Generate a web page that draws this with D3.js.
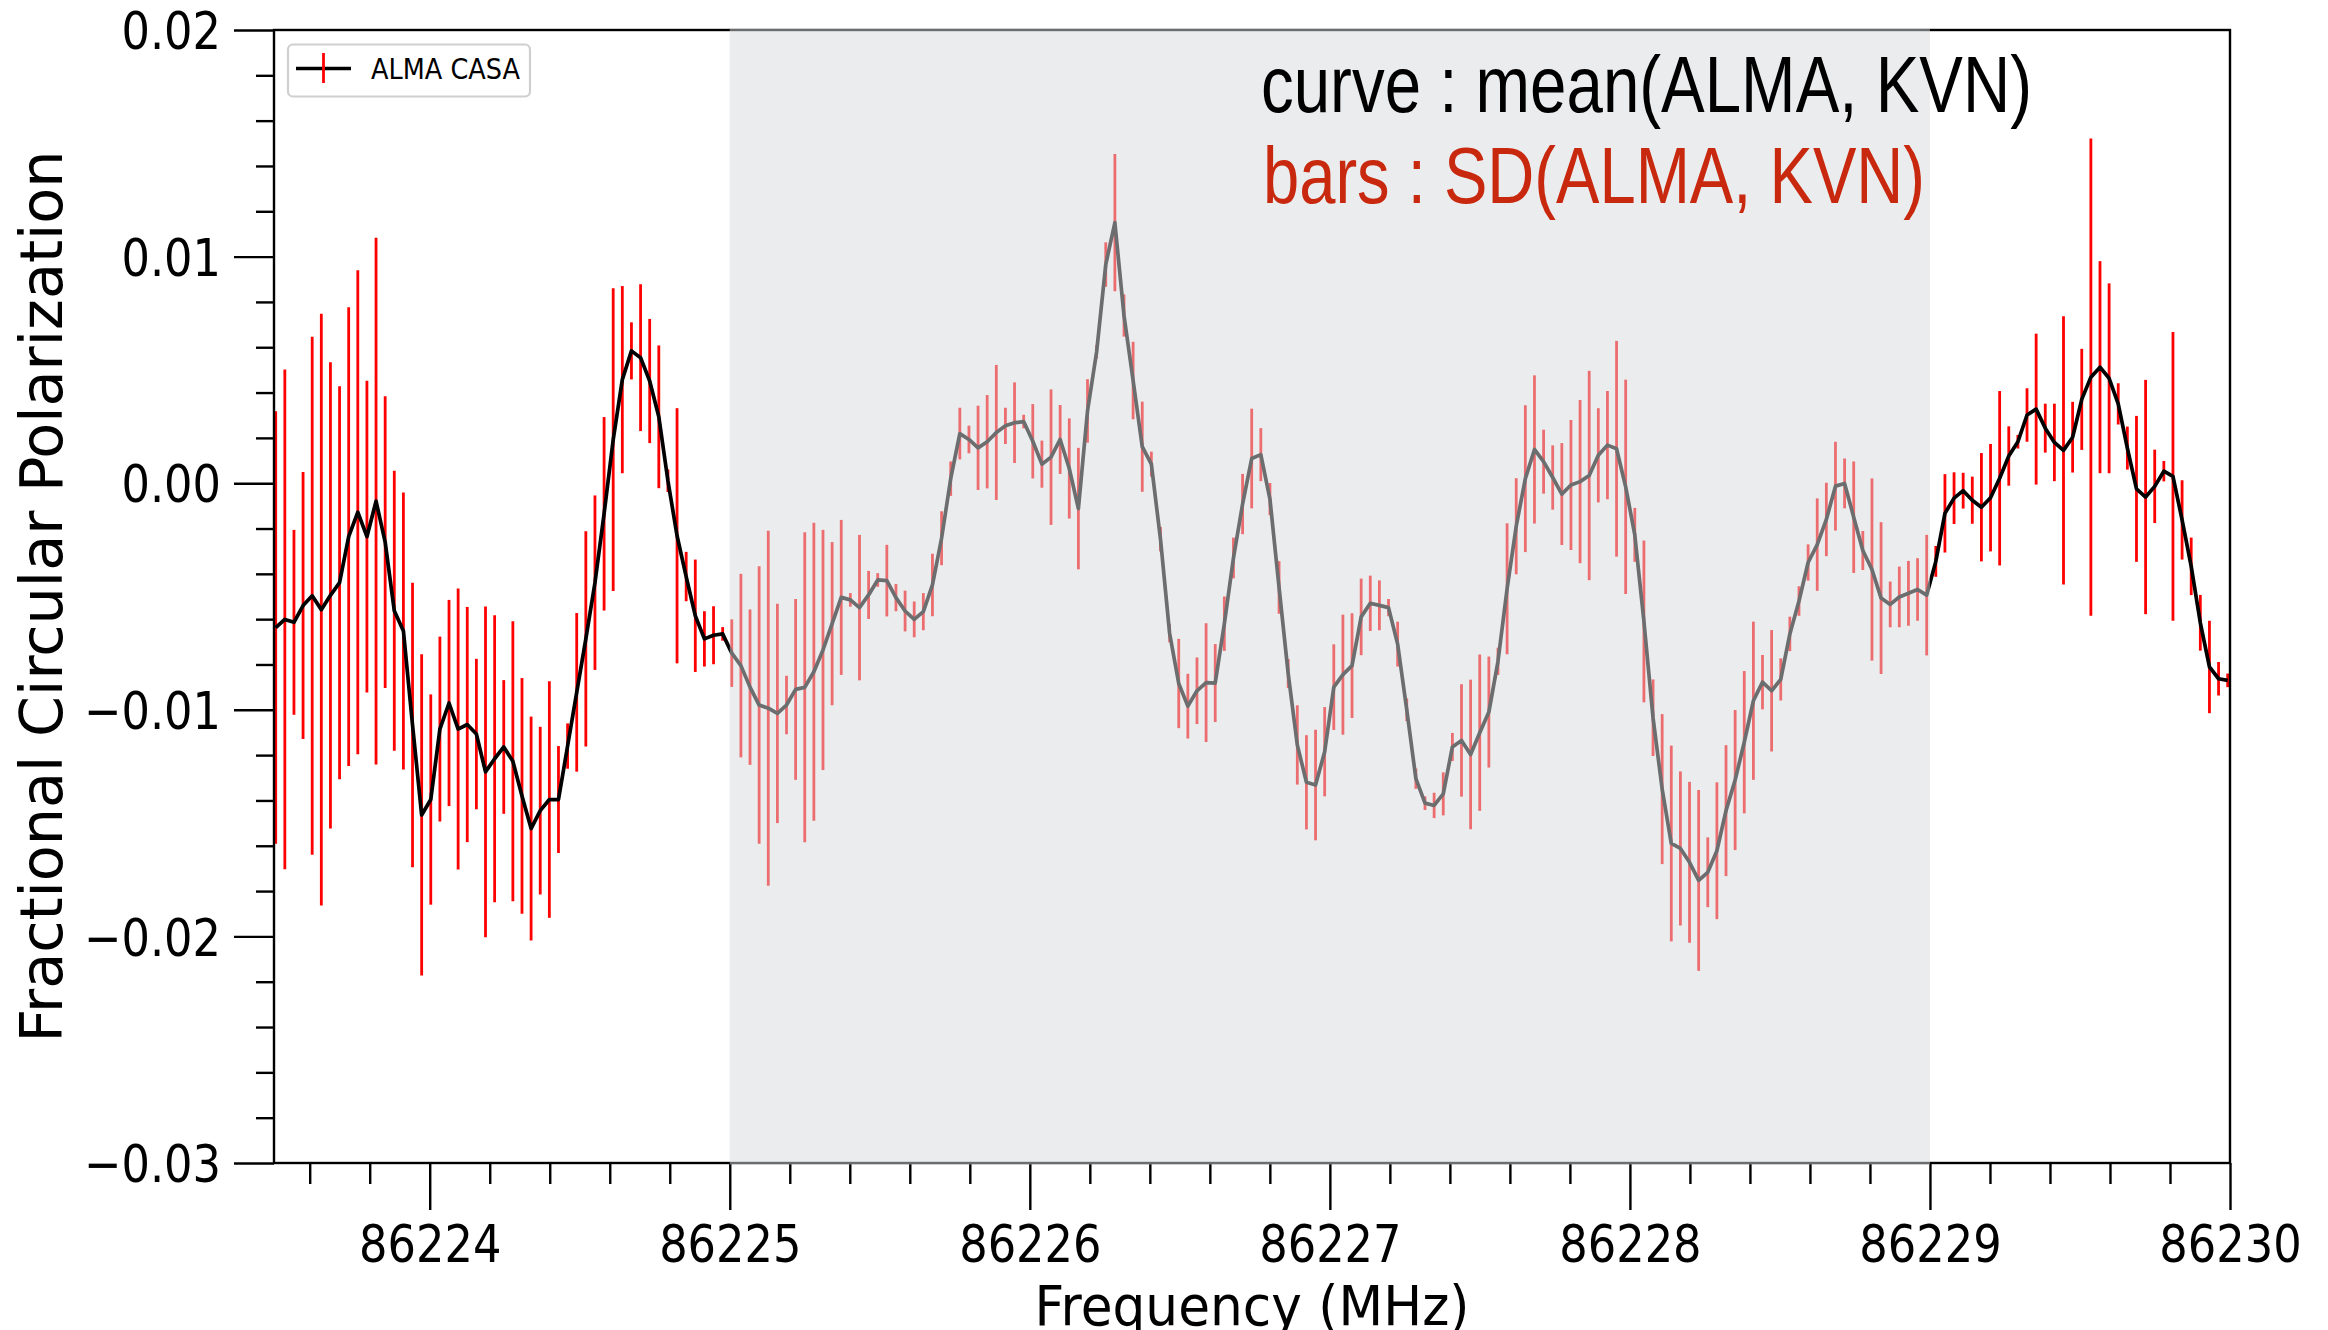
<!DOCTYPE html>
<html>
<head>
<meta charset="utf-8">
<script src="https://cdn.jsdelivr.net/npm/d3@7"></script>
<style>
  body { margin: 0; background: #fff; }
  svg { display: block; }
</style>
</head>
<body>
<svg id="chart" width="2328" height="1330"></svg>
<script>
// spectral channels (MHz)
const freqStart = 86223.4867;
const chanWidth = 0.0304;

// curve : mean(ALMA, KVN), in units of 1e-3
const meanVals = [
  -6.37, -6.01, -6.14, -5.40, -4.97, -5.58, -4.95, -4.39, -2.36, -1.28,
  -2.36, -0.79, -2.60, -5.63, -6.52, -10.67, -14.64, -13.96, -10.85, -9.70,
  -10.85, -10.65, -11.07, -12.74, -12.16, -11.64, -12.27, -13.80, -15.24, -14.45,
  -13.96, -13.96, -11.60, -9.23, -6.87, -4.39, -1.35, 1.92, 4.57, 5.84,
  5.54, 4.51, 2.93, 0.11, -2.32, -4.12, -5.85, -6.87, -6.71, -6.65,
  -7.50, -8.05, -9.00, -9.79, -9.93, -10.16, -9.79, -9.10, -9.01, -8.32,
  -7.36, -6.20, -5.04, -5.15, -5.49, -4.93, -4.27, -4.30, -5.05, -5.64,
  -6.01, -5.67, -4.49, -2.43, 0.20, 2.19, 1.93, 1.56, 1.83, 2.24,
  2.53, 2.67, 2.72, 1.85, 0.84, 1.15, 1.93, 0.65, -1.12, 3.19,
  5.80, 9.65, 11.50, 7.40, 4.53, 1.61, 0.84, -2.47, -6.62, -8.84,
  -9.84, -9.16, -8.80, -8.82, -6.20, -3.30, -0.92, 1.09, 1.26, -0.70,
  -4.60, -8.40, -11.55, -13.20, -13.32, -11.85, -9.00, -8.45, -8.05, -5.90,
  -5.30, -5.39, -5.49, -7.10, -10.00, -13.04, -14.12, -14.22, -13.71, -11.64,
  -11.35, -11.97, -11.01, -10.10, -7.86, -4.66, -1.90, 0.20, 1.49, 0.95,
  0.25, -0.48, -0.08, 0.07, 0.34, 1.23, 1.68, 1.52, -0.16, -2.28,
  -6.10, -10.35, -13.50, -15.90, -16.12, -16.73, -17.53, -17.17, -16.22, -14.45,
  -13.10, -11.43, -9.60, -8.78, -9.16, -8.66, -6.65, -5.20, -3.50, -2.71,
  -1.60, -0.13, -0.01, -1.50, -2.97, -3.81, -5.07, -5.35, -5.02, -4.86,
  -4.69, -4.94, -3.45, -1.33, -0.66, -0.33, -0.75, -1.06, -0.64, 0.22,
  1.20, 1.83, 3.01, 3.27, 2.43, 1.80, 1.45, 2.03, 3.70, 4.68,
  5.12, 4.63, 3.50, 1.55, -0.25, -0.61, -0.14, 0.53, 0.30, -1.62,
  -3.67, -6.16, -8.11, -8.63, -8.70
];

// bars : SD(ALMA, KVN), in units of 1e-3
const sdVals = [
  9.54, 11.03, 4.08, 5.89, 11.43, 13.06, 10.29, 8.67, 10.12, 10.68,
  6.88, 11.62, 6.44, 6.18, 6.11, 6.28, 7.09, 4.64, 4.08, 4.55,
  6.20, 5.19, 3.32, 7.30, 6.33, 2.95, 6.18, 5.20, 4.94, 3.70,
  5.22, 2.36, 1.00, 3.50, 4.75, 3.85, 4.27, 6.68, 4.13, 1.26,
  3.24, 2.74, 3.15, 0.50, 5.63, 1.09, 2.48, 1.22, 1.28, 0.30,
  1.49, 4.05, 3.43, 6.12, 7.83, 4.84, 1.29, 3.99, 6.84, 6.58,
  5.30, 3.60, 3.42, 0.30, 3.21, 1.06, 0.30, 1.58, 0.60, 0.90,
  0.79, 0.82, 1.38, 1.19, 0.76, 1.14, 0.61, 1.86, 2.06, 2.98,
  0.80, 1.78, 0.30, 1.64, 1.04, 2.99, 1.52, 2.21, 2.68, 1.40,
  0.30, 0.98, 3.03, 0.93, 1.71, 1.99, 0.55, 0.54, 0.40, 1.97,
  1.43, 1.47, 2.62, 1.72, 1.20, 0.90, 1.33, 2.20, 1.17, 0.71,
  1.16, 0.64, 1.75, 2.08, 2.44, 1.97, 1.89, 2.65, 2.31, 1.69,
  1.22, 1.10, 0.38, 0.99, 0.50, 0.45, 0.30, 0.56, 0.95, 0.62,
  2.48, 3.30, 3.45, 2.45, 0.60, 2.89, 2.12, 3.24, 3.27, 1.41,
  1.42, 2.25, 2.87, 3.60, 4.62, 2.08, 2.39, 4.76, 4.73, 1.19,
  3.57, 1.69, 3.31, 4.32, 3.40, 3.55, 3.99, 1.54, 3.02, 2.89,
  3.09, 3.14, 3.49, 1.20, 2.68, 0.93, 0.76, 0.65, 0.80, 2.04,
  1.62, 1.96, 1.10, 2.46, 0.86, 4.02, 3.35, 1.01, 1.34, 1.43,
  1.38, 2.66, 0.68, 1.73, 1.14, 0.79, 1.04, 2.39, 2.37, 3.85,
  1.31, 0.30, 1.18, 3.33, 1.08, 1.71, 5.92, 1.56, 2.23, 10.53,
  4.68, 4.19, 0.91, 0.95, 3.22, 5.17, 1.62, 0.45, 6.37, 1.75,
  1.27, 1.23, 2.04, 0.74, 0.30
];

const xTicks = [86224, 86225, 86226, 86227, 86228, 86229, 86230];
const yTicks = [-0.03, -0.02, -0.01, 0.00, 0.01, 0.02];
const yTickLabels = ["\u22120.03", "\u22120.02", "\u22120.01", "0.00", "0.01", "0.02"];
const shadeBand = [86225, 86229];
const noteLines = ["curve : mean(ALMA, KVN)", "bars : SD(ALMA, KVN)"];
const legendLabel = "ALMA CASA";

const svg = d3.select("#chart");
const pLeft = 274, pRight = 2230, pTop = 30, pBottom = 1163;

const x = d3.scaleLinear().domain([86223.481, 86230]).range([pLeft, pRight]);
const y = d3.scaleLinear().domain([-0.03, 0.02]).range([pBottom, pTop]);

const pts = meanVals.map((m, i) => ({
  f: freqStart + i * chanWidth,
  m: m / 1000,
  s: sdVals[i] / 1000
}));

// squeeze text horizontally (the original figure is narrow-set)
const squeeze = (sel, k) => sel.each(function () {
  const w = this.getComputedTextLength();
  d3.select(this).attr("textLength", w * k).attr("lengthAdjust", "spacingAndGlyphs");
});
const fitWidth = (sel, w) => sel.attr("textLength", w).attr("lengthAdjust", "spacingAndGlyphs");

svg.append("rect").attr("width", 2328).attr("height", 1330).attr("fill", "#fff");

svg.append("defs").append("clipPath").attr("id", "plotclip")
  .append("rect").attr("x", pLeft).attr("y", pTop)
  .attr("width", pRight - pLeft).attr("height", pBottom - pTop);

// minor ticks
const xMinor = d3.range(86223.6, 86230, 0.2).filter(v => Math.abs(v - Math.round(v)) > 0.01);
const yMinor = d3.range(-0.03, 0.0201, 0.002).filter(v => Math.abs(v * 100 - Math.round(v * 100)) > 0.01);

svg.append("g").attr("transform", `translate(0,${pBottom})`)
  .call(d3.axisBottom(x).tickValues(xMinor).tickSize(21).tickFormat(""))
  .call(g => g.select(".domain").remove())
  .selectAll("line").attr("stroke", "#000").attr("stroke-width", 2.4);

svg.append("g").attr("transform", `translate(${pLeft},0)`)
  .call(d3.axisLeft(y).tickValues(yMinor).tickSize(18).tickFormat(""))
  .call(g => g.select(".domain").remove())
  .selectAll("line").attr("stroke", "#000").attr("stroke-width", 2.4);

// major ticks + labels
const xAxis = svg.append("g").attr("transform", `translate(0,${pBottom})`)
  .call(d3.axisBottom(x).tickValues(xTicks).tickSize(47).tickSizeOuter(0).tickFormat(d3.format("d")));
xAxis.select(".domain").remove();
xAxis.selectAll("line").attr("stroke", "#000").attr("stroke-width", 2.4);
xAxis.selectAll("text")
  .attr("y", 98.7).attr("dy", 0)
  .attr("fill", "#000")
  .style("font-family", "'DejaVu Sans', Verdana, sans-serif")
  .style("font-size", "52px")
  .call(squeeze, 0.86);

const yAxis = svg.append("g").attr("transform", `translate(${pLeft},0)`)
  .call(d3.axisLeft(y).tickValues(yTicks).tickSize(40).tickSizeOuter(0)
    .tickFormat((d, i) => yTickLabels[i]));
yAxis.select(".domain").remove();
yAxis.selectAll("line").attr("stroke", "#000").attr("stroke-width", 2.4);
yAxis.selectAll("text")
  .attr("x", -53).attr("dy", "0.36em")
  .attr("fill", "#000")
  .style("font-family", "'DejaVu Sans', Verdana, sans-serif")
  .style("font-size", "52px")
  .call(squeeze, 0.86);

// axis titles
svg.append("text")
  .attr("x", (pLeft + pRight) / 2).attr("y", 1325)
  .attr("text-anchor", "middle")
  .style("font-family", "'DejaVu Sans', Verdana, sans-serif")
  .style("font-size", "56px")
  .text("Frequency (MHz)")
  .call(fitWidth, 435);

svg.append("text")
  .attr("transform", `translate(62,${(pTop + pBottom) / 2}) rotate(-90)`)
  .attr("text-anchor", "middle")
  .style("font-family", "'DejaVu Sans', Verdana, sans-serif")
  .style("font-size", "58px")
  .text("Fractional Circular Polarization")
  .call(fitWidth, 892);

// data: error bars under the mean curve
const plot = svg.append("g").attr("clip-path", "url(#plotclip)");

plot.append("g").selectAll("line")
  .data(pts)
  .join("line")
  .attr("x1", d => x(d.f)).attr("x2", d => x(d.f))
  .attr("y1", d => y(d.m + d.s)).attr("y2", d => y(d.m - d.s))
  .attr("stroke", "#ff0000")
  .attr("stroke-width", 2.8);

plot.append("path")
  .datum(pts)
  .attr("fill", "none")
  .attr("stroke", "#000")
  .attr("stroke-width", 3.7)
  .attr("stroke-linejoin", "round")
  .attr("d", d3.line().x(d => x(d.f)).y(d => y(d.m)));

// frame
svg.append("rect")
  .attr("x", pLeft).attr("y", pTop)
  .attr("width", pRight - pLeft).attr("height", pBottom - pTop)
  .attr("fill", "none")
  .attr("stroke", "#000")
  .attr("stroke-width", 2.4);

// translucent band over everything inside the axes
svg.append("rect")
  .attr("x", x(shadeBand[0])).attr("y", pTop - 1.5)
  .attr("width", x(shadeBand[1]) - x(shadeBand[0]))
  .attr("height", pBottom - pTop + 3)
  .attr("fill", "#d7d9dd")
  .attr("fill-opacity", 0.5);

// annotation
svg.append("text")
  .attr("x", 1261).attr("y", 111.7)
  .attr("fill", "#000")
  .style("font-family", "'Liberation Sans', Arial, sans-serif")
  .style("font-size", "79px")
  .text(noteLines[0])
  .call(fitWidth, 771);

svg.append("text")
  .attr("x", 1263).attr("y", 202.7)
  .attr("fill", "#c8290e")
  .style("font-family", "'Liberation Sans', Arial, sans-serif")
  .style("font-size", "79px")
  .text(noteLines[1])
  .call(fitWidth, 662);

// legend
const legend = svg.append("g");
legend.append("rect")
  .attr("x", 288).attr("y", 44.5)
  .attr("width", 242).attr("height", 52)
  .attr("rx", 5).attr("ry", 5)
  .attr("fill", "#fff")
  .attr("stroke", "#cfcfcf")
  .attr("stroke-width", 2.2);
legend.append("line")
  .attr("x1", 296).attr("x2", 351).attr("y1", 68.5).attr("y2", 68.5)
  .attr("stroke", "#000").attr("stroke-width", 3.4);
legend.append("line")
  .attr("x1", 323.5).attr("x2", 323.5).attr("y1", 53).attr("y2", 83)
  .attr("stroke", "#ff0000").attr("stroke-width", 2.8);
legend.append("text")
  .attr("x", 371).attr("y", 79)
  .style("font-family", "'DejaVu Sans', Verdana, sans-serif")
  .style("font-size", "28.4px")
  .text(legendLabel)
  .call(fitWidth, 149);
</script>
</body>
</html>
